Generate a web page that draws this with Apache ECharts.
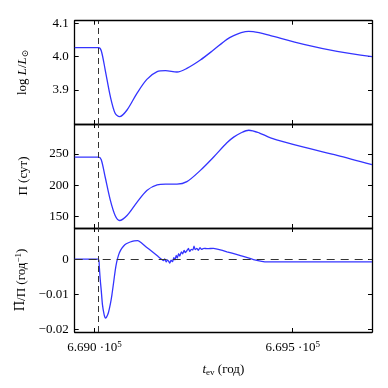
<!DOCTYPE html>
<html>
<head>
<meta charset="utf-8">
<script src="https://cdn.jsdelivr.net/npm/echarts@6/dist/echarts.min.js"></script>
<style>html,body{margin:0;padding:0;background:#fff}#c{width:388px;height:388px}</style>
</head>
<body>
<div id="c"></div>
<script>
// time axis (years) shared by log L and period curves
const tLP = [668950, 669010, 669017, 669027, 669040, 669052, 669063, 669082, 669107, 669132, 669158, 669179, 669208, 669233, 669267, 669300, 669334, 669351, 669370, 669389, 669415, 669444, 669528, 669612, 669700];
const logL = [4.027, 4.027, 4.018, 3.960, 3.880, 3.830, 3.820, 3.840, 3.890, 3.932, 3.955, 3.958, 3.954, 3.965, 3.990, 4.020, 4.052, 4.063, 4.072, 4.076, 4.072, 4.063, 4.037, 4.016, 4.000];
const period = [245, 245, 241, 213, 176, 152, 144, 152, 173, 192, 201, 202, 202, 206, 224, 245, 268, 277, 284, 288, 284, 276, 261, 248, 233];
// time axis for period derivative
const tD = [668950, 669010, 669012, 669014, 669017, 669020, 669024, 669027, 669030, 669035, 669040, 669044, 669048, 669052, 669056, 669061, 669066, 669073, 669080, 669090, 669100, 669109, 669118, 669128, 669138, 669149, 669160, 669170,
  669174, 669177, 669181, 669184, 669187, 669190, 669193, 669197, 669200, 669203, 669206, 669209, 669212, 669215, 669219, 669222, 669226, 669229, 669233, 669237, 669240, 669244, 669248, 669251, 669254, 669258, 669262, 669266, 669270, 669276, 669285,
  669300, 669320, 669334, 669360, 669401, 669435, 669700];
const pdot = [0, 0, -0.0020, -0.0053, -0.0090, -0.0130, -0.0157, -0.0168, -0.0166, -0.0153, -0.0128, -0.0101, -0.0068, -0.0034, -0.0008, 0.0013, 0.0026, 0.0037, 0.0044, 0.0049, 0.0052, 0.0053, 0.0047, 0.0037, 0.0028, 0.0018, 0.0008, -0.0001,
  -0.0004, 0.0001, -0.0008, -0.0002, -0.0006, -0.0011, -0.0003, -0.0007, 0.0004, -0.0002, 0.0011, 0.0003, 0.0016, 0.0009, 0.0021, 0.0015, 0.0025, 0.0019, 0.0024, 0.0031, 0.0022, 0.0028, 0.0026, 0.0037, 0.0027, 0.0031, 0.0025, 0.0033, 0.0028, 0.0031, 0.0030,
  0.0031, 0.0026, 0.0021, 0.0013, -0.0001, -0.0008, -0.0008];
const xTicks = [669000, 669500];
const yTicksL = [3.9, 4.0, 4.1];
const yTicksP = [150, 200, 250];
const yTicksD = [-0.02, -0.01, 0];
const markT = 669010;

const FONT = "'Liberation Serif','DejaVu Serif',serif";
const X_MIN = 668950, X_MAX = 669700;
const tops = [20.7, 124, 228];
const hts = [103.3, 104, 104];
const grids = tops.map((t, i) => ({ left: 74.7, right: 16, top: t, height: hts[i] }));
const lineBase = { show: true, onZero: false, lineStyle: { color: '#000', width: 1.3 } };
const tickBase = (vals) => ({ show: true, inside: true, length: 4, customValues: vals, lineStyle: { color: '#000', width: 1 } });

const xAxes = [], yAxes = [];
const yRanges = [[3.798, 4.108, yTicksL], [132, 298, yTicksP], [-0.0208, 0.0089, yTicksD]];
const yFmt = [v => v.toFixed(1), v => String(Math.round(v)), v => v === 0 ? '0' : '\u2212' + Math.abs(v).toFixed(2)];
const yNames = [
  '{n|log }{i|L}{n|/}{i|L}{s|\u2299}',
  '{n|\u03A0 (\u0441\u0443\u0442)}',
  '{d|\u03A0\u0307}{n|/\u03A0 (\u0433\u043E\u0434}{sup|\u22121}{n|)}'
];
const FS = 13;
const nameRich = {
  n: { fontFamily: FONT, fontSize: FS, color: '#000' },
  d: { fontFamily: "'DejaVu Serif',serif", fontSize: FS - 1, color: '#000' },
  i: { fontFamily: FONT, fontSize: FS, fontStyle: 'italic', color: '#000' },
  s: { fontFamily: FONT, fontSize: 9, color: '#000', verticalAlign: 'bottom', padding: [6, 0, 0, 0] },
  sup: { fontFamily: FONT, fontSize: 9, color: '#000', padding: [0, 0, 6, 0] }
};
for (let i = 0; i < 3; i++) {
  const last = i === 2;
  xAxes.push({
    type: 'value', gridIndex: i, position: 'bottom', min: X_MIN, max: X_MAX,
    axisLine: lineBase, axisTick: tickBase(xTicks), splitLine: { show: false },
    axisLabel: last ? {
      show: true, customValues: xTicks, margin: 8, color: '#000', fontFamily: FONT, fontSize: FS,
      formatter: v => (v / 1e5).toFixed(3) + ' \u00B710{sup|5}',
      rich: { sup: { fontFamily: FONT, fontSize: 9, color: '#000', padding: [0, 0, 7, 0] } }
    } : { show: false },
    name: last ? '{i|t}{s|ev}{n| (\u0433\u043E\u0434)}' : '',
    nameLocation: 'middle', nameGap: 30,
    nameTextStyle: { rich: nameRich }
  });
  xAxes.push({
    type: 'value', gridIndex: i, position: 'top', min: X_MIN, max: X_MAX,
    axisLine: lineBase, axisTick: tickBase(xTicks), splitLine: { show: false }, axisLabel: { show: false }
  });
  const [mn, mx, tv] = yRanges[i];
  yAxes.push({
    type: 'value', gridIndex: i, position: 'left', min: mn, max: mx,
    axisLine: lineBase, axisTick: tickBase(tv), splitLine: { show: false },
    axisLabel: { show: true, customValues: tv, margin: 6, color: '#000', fontFamily: FONT, fontSize: FS, formatter: yFmt[i] },
    name: yNames[i], nameLocation: 'middle', nameRotate: 90, nameGap: 45,
    nameTextStyle: { rich: nameRich }
  });
  yAxes.push({
    type: 'value', gridIndex: i, position: 'right', min: mn, max: mx,
    axisLine: lineBase, axisTick: tickBase(tv), splitLine: { show: false }, axisLabel: { show: false }
  });
}

const dashStyle = { color: '#333', width: 1, type: [6, 4] };
const mk = (extra) => ({
  silent: true, symbol: 'none', label: { show: false },
  lineStyle: dashStyle,
  data: [{ xAxis: markT }].concat(extra || [])
});
const blue = { color: '#3434ff', width: 1.3 };
const series = [
  { type: 'line', xAxisIndex: 0, yAxisIndex: 0, data: tLP.map((t, k) => [t, logL[k]]), showSymbol: false, smooth: 0.3, lineStyle: blue, markLine: mk() },
  { type: 'line', xAxisIndex: 2, yAxisIndex: 2, data: tLP.map((t, k) => [t, period[k]]), showSymbol: false, smooth: 0.3, lineStyle: blue, markLine: mk() },
  { type: 'line', xAxisIndex: 4, yAxisIndex: 4, data: tD.map((t, k) => [t, pdot[k]]), showSymbol: false, smooth: 0.15, lineStyle: blue,
    markLine: mk([{ yAxis: 0, lineStyle: { color: '#333', width: 1, type: [8, 6] } }]) }
];

const chart = echarts.init(document.getElementById('c'), null, { renderer: 'canvas' });
chart.setOption({
  animation: false,
  backgroundColor: '#fff',
  grid: grids,
  xAxis: xAxes,
  yAxis: yAxes,
  series: series
});
</script>
</body>
</html>
